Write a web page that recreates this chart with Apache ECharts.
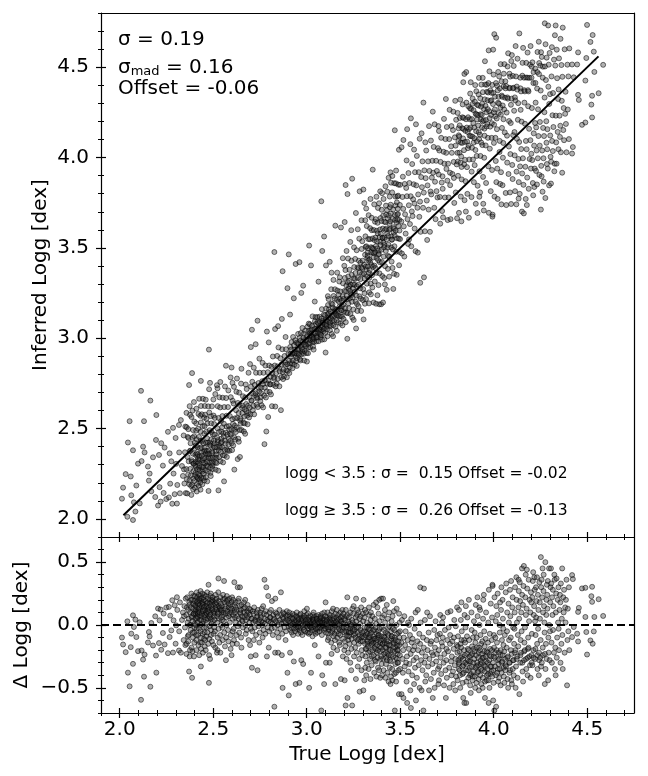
<!DOCTYPE html>
<html><head><meta charset="utf-8">
<script src="https://cdn.jsdelivr.net/npm/echarts@6/dist/echarts.min.js"></script>
<style>html,body{margin:0;padding:0;background:#fff}#c{width:648px;height:776px}</style>
</head><body><div id="c"></div>
<script>
// Axis ticks
const majorX = [2.0, 2.5, 3.0, 3.5, 4.0, 4.5];
const minorX = [1.9,2.0,2.1,2.2,2.3,2.4,2.5,2.6,2.7,2.8,2.9,3.0,3.1,3.2,3.3,3.4,3.5,3.6,3.7,3.8,3.9,4.0,4.1,4.2,4.3,4.4,4.5,4.6,4.7];
const majorYTop = [2.0, 2.5, 3.0, 3.5, 4.0, 4.5];
const minorYTop = [1.9,2.0,2.1,2.2,2.3,2.4,2.5,2.6,2.7,2.8,2.9,3.0,3.1,3.2,3.3,3.4,3.5,3.6,3.7,3.8,3.9,4.0,4.1,4.2,4.3,4.4,4.5,4.6,4.7,4.8];
const majorYBot = [-0.5, 0.0, 0.5];
const minorYBot = [-0.7,-0.6,-0.5,-0.4,-0.3,-0.2,-0.1,0.0,0.1,0.2,0.3,0.4,0.5,0.6,0.7];
const oneToOne = [[2.02, 2.02], [4.56, 4.56]];

// Residuals: [true logg, Δ logg = true - inferred]
const lowSparse = [[2.012,-0.1],[2.018,-0.155],[2.032,-0.216],[2.041,0.029],[2.044,-0.379],[2.053,-0.488],[2.059,-0.176],[2.062,-0.069],[2.071,0.077],[2.071,-0.309],[2.076,-0.016],[2.084,0.043],[2.089,-0.096],[2.098,-0.208],[2.107,0.021],[2.114,-0.595],[2.117,-0.203],[2.125,-0.275],[2.13,-0.411],[2.133,-0.235],[2.151,-0.139],[2.156,-0.056],[2.16,-0.091],[2.164,-0.491],[2.169,0.016],[2.178,-0.163],[2.19,0.069],[2.194,-0.243],[2.196,-0.379],[2.205,0.131],[2.21,-0.144],[2.213,0.037],[2.219,0.123],[2.222,-0.197],[2.231,-0.064],[2.235,0.091],[2.24,-0.155],[2.249,0.139],[2.258,-0.224],[2.263,0.144],[2.267,-0.096],[2.27,0.075],[2.276,-0.043],[2.281,0.197],[2.285,-0.219],[2.288,0.037],[2.294,0.157],[2.299,-0.149],[2.302,-0.003],[2.306,0.221],[2.317,-0.203]];

const redClump = [[2.308,0.12],[2.318,-0.05],[2.322,0.18],[2.327,-0.22],[2.333,0.04],[2.338,0.1],[2.342,-0.12],[2.346,0.15],[2.349,-0.02],[2.353,0.21],[2.351,-0.16],[2.344,0.07],
[2.356,0.08],[2.358,-0.15],[2.361,0.22],[2.363,0.02],[2.359,0.14],[2.364,-0.09],[2.357,-0.23],
[2.366,0.12],[2.368,-0.08],[2.372,0.18],[2.374,-0.25],[2.369,0.05],[2.371,-0.37],[2.373,0.16],[2.367,-0.13],[2.375,0.0],
[2.377,0.1],[2.379,-0.04],[2.383,0.25],[2.381,0.14],[2.384,-0.18],[2.378,0.0],[2.382,0.2],[2.385,0.06],[2.376,-0.2],
[2.386,0.07],[2.388,0.2],[2.392,-0.1],[2.394,0.13],[2.389,-0.21],[2.391,0.03],[2.393,0.17],[2.387,-0.42],[2.395,0.09],[2.39,-0.06],[2.393,0.23],
[2.396,0.09],[2.398,-0.06],[2.402,0.23],[2.404,0.11],[2.399,-0.14],[2.401,0.01],[2.403,0.16],[2.397,-0.25],[2.405,0.05],[2.4,0.19],[2.402,-0.02],
[2.406,0.15],[2.412,0.05],[2.409,-0.12],[2.414,0.22],[2.407,0.09],[2.411,-0.03],[2.413,0.18],[2.408,0.12],[2.41,-0.2],[2.415,0.07],[2.412,0.26],[2.407,0.0],[2.414,0.14],[2.409,-0.08],
[2.416,0.1],[2.422,0.2],[2.419,-0.08],[2.424,0.14],[2.417,0.02],[2.421,-0.16],[2.423,0.24],[2.418,0.06],[2.42,0.17],[2.425,-0.24],[2.422,0.11],[2.417,0.19],[2.424,-0.03],[2.419,0.09],
[2.426,0.13],[2.432,0.0],[2.429,0.19],[2.434,-0.1],[2.427,0.08],[2.431,0.23],[2.433,-0.05],[2.428,0.16],[2.43,0.04],[2.435,-0.19],[2.432,0.27],[2.427,0.1],[2.434,-0.33],[2.429,0.21],[2.431,-0.14],
[2.436,0.07],[2.442,0.18],[2.439,-0.14],[2.444,0.12],[2.437,0.21],[2.441,0.01],[2.443,-0.07],[2.438,0.15],[2.44,0.09],[2.445,-0.22],[2.442,0.25],[2.437,0.04],[2.444,0.17],
[2.446,0.11],[2.452,-0.02],[2.449,0.2],[2.454,0.06],[2.447,0.16],[2.451,-0.11],[2.453,0.24],[2.448,0.03],[2.45,0.14],[2.455,-0.17],[2.452,0.08],[2.447,0.22],[2.454,-0.06],
[2.456,0.12],[2.462,0.04],[2.459,0.19],[2.464,-0.09],[2.457,0.15],[2.461,0.23],[2.463,-0.02],[2.458,0.08],[2.46,-0.2],[2.465,0.17],[2.462,0.1],[2.457,-0.12],
[2.466,0.09],[2.472,0.21],[2.469,-0.06],[2.474,0.13],[2.467,0.02],[2.471,0.18],[2.473,-0.15],[2.468,0.26],[2.47,0.11],[2.475,0.32],[2.472,0.05],[2.467,0.15],
[2.476,0.14],[2.482,0.06],[2.479,-0.11],[2.484,0.2],[2.477,0.1],[2.481,-0.01],[2.483,0.17],[2.478,-0.24],[2.48,0.07],[2.485,0.23],[2.477,-0.46],[2.483,-0.27],[2.479,0.12],
[2.486,0.08],[2.492,0.18],[2.489,-0.04],[2.494,0.12],[2.487,0.25],[2.491,0.01],[2.493,-0.13],[2.488,0.15],[2.49,0.05],[2.495,0.2],[2.488,-0.08],
[2.496,0.13],[2.502,-0.07],[2.499,0.19],[2.504,0.07],[2.497,0.22],[2.501,-0.16],[2.503,0.1],[2.498,0.03],[2.5,0.16],[2.505,-0.02],
[2.506,0.11],[2.512,0.2],[2.509,-0.05],[2.514,0.14],[2.507,0.04],[2.511,-0.18],[2.513,0.24],[2.508,0.09],[2.51,0.17],
[2.516,0.16],[2.522,0.02],[2.519,0.21],[2.524,-0.1],[2.517,0.12],[2.521,0.07],[2.523,-0.2],[2.518,0.18],[2.52,-0.22],[2.525,0.1],
[2.526,0.09],[2.532,0.19],[2.529,-0.03],[2.534,0.13],[2.527,0.26],[2.531,0.05],[2.533,-0.14],[2.528,0.37],[2.53,0.15],
[2.536,0.14],[2.542,0.0],[2.539,0.22],[2.544,0.1],[2.537,-0.08],[2.541,0.17],[2.543,0.06],[2.538,-0.22],[2.54,0.12],
[2.546,0.12],[2.552,0.2],[2.549,-0.02],[2.554,0.08],[2.547,0.15],[2.551,-0.12],[2.553,0.24],[2.548,0.04],
[2.556,0.1],[2.562,0.18],[2.559,-0.06],[2.564,0.13],[2.557,0.03],[2.561,0.21],[2.563,-0.17],[2.558,0.35],
[2.566,0.15],[2.572,0.06],[2.569,-0.1],[2.574,0.19],[2.567,0.09],[2.571,0.0],[2.573,0.23],[2.568,-0.28],
[2.576,0.11],[2.582,0.17],[2.579,-0.04],[2.584,0.07],[2.577,0.2],[2.581,-0.13],[2.583,0.14],
[2.586,0.09],[2.592,0.16],[2.589,0.02],[2.594,-0.08],[2.587,0.21],[2.591,0.12],[2.593,-0.19],
[2.596,0.13],[2.602,0.05],[2.599,0.18],[2.604,-0.05],[2.597,0.1],[2.601,0.22],[2.603,-0.15],[2.598,-0.24]];

const giantBranch = [[2.606,0.08],[2.612,0.16],[2.609,-0.03],[2.614,0.12],[2.607,0.2],[2.611,-0.12],[2.613,0.34],
[2.616,0.1],[2.622,0.02],[2.619,0.18],[2.624,-0.08],[2.617,0.06],[2.621,0.14],
[2.626,0.12],[2.632,-0.01],[2.629,0.07],[2.634,0.19],[2.627,-0.15],[2.631,0.3],
[2.636,0.05],[2.642,0.15],[2.639,-0.06],[2.644,0.1],[2.637,0.21],[2.641,0.01],[2.643,0.3],
[2.646,0.09],[2.652,0.16],[2.649,-0.1],[2.654,0.04],[2.647,0.12],[2.651,-0.18],
[2.656,0.07],[2.662,0.13],[2.659,-0.02],[2.664,0.18],[2.657,0.03],
[2.666,0.1],[2.672,0.0],[2.669,0.14],[2.674,-0.07],[2.667,0.06],[2.671,0.2],
[2.676,0.04],[2.682,0.11],[2.679,-0.04],[2.684,0.16],[2.677,0.08],
[2.686,0.06],[2.692,0.13],[2.689,-0.12],[2.694,0.02],[2.687,0.1],
[2.696,0.08],[2.702,-0.03],[2.699,0.12],[2.704,0.05],[2.697,-0.16],[2.701,-0.25],
[2.706,0.05],[2.712,0.11],[2.709,-0.05],[2.714,0.02],[2.707,-0.34],
[2.716,0.09],[2.722,-0.02],[2.719,0.14],[2.724,0.04],[2.717,-0.12],
[2.726,0.03],[2.732,0.1],[2.729,-0.08],[2.734,0.06],[2.727,-0.24],
[2.736,0.07],[2.742,-0.01],[2.739,0.12],[2.744,0.02],[2.737,-0.36],
[2.746,0.04],[2.752,0.1],[2.749,-0.06],[2.754,0.08],[2.747,-0.14],
[2.756,0.06],[2.762,0.0],[2.759,0.13],[2.764,-0.1],[2.757,0.03],
[2.766,0.02],[2.772,0.09],[2.769,-0.04],[2.774,0.36],[2.767,0.15],
[2.776,0.05],[2.782,0.11],[2.779,-0.07],[2.784,0.3],[2.777,0.01],
[2.786,0.08],[2.792,-0.02],[2.789,0.04],[2.794,0.23],[2.787,-0.25],
[2.796,0.03],[2.802,0.1],[2.799,-0.05],[2.804,0.06],[2.797,-0.18],
[2.806,0.06],[2.812,-0.03],[2.809,0.12],[2.814,0.19],[2.807,0.02],
[2.816,0.01],[2.822,0.08],[2.819,-0.08],[2.824,0.04],
[2.826,0.05],[2.832,0.21],[2.829,-0.02],[2.834,0.1],[2.827,-0.65],[2.831,-0.22],
[2.836,0.03],[2.842,-0.06],[2.839,0.09],[2.844,0.0],
[2.846,0.07],[2.852,0.02],[2.849,-0.1],[2.854,0.12],[2.847,-0.22],
[2.856,0.04],[2.862,0.26],[2.859,-0.03],[2.864,0.08],
[2.866,0.01],[2.872,0.06],[2.869,-0.07],[2.874,0.1],[2.867,-0.24],[2.871,-0.5],
[2.876,0.05],[2.882,-0.02],[2.879,0.09],[2.884,0.03],
[2.886,0.02],[2.892,0.07],[2.889,-0.05],[2.894,0.11],[2.887,-0.12],
[2.896,0.04],[2.902,-0.01],[2.899,0.08],[2.904,-0.56],[2.897,-0.38],
[2.906,0.03],[2.912,-0.04],[2.909,0.07],[2.914,0.0],[2.907,0.1],[2.911,-0.22],[2.912,0.05],
[2.916,0.02],[2.922,0.06],[2.919,-0.06],[2.924,0.09],[2.917,-0.02],[2.923,0.01],
[2.926,0.05],[2.932,-0.03],[2.929,0.01],[2.934,0.08],[2.927,-0.08],[2.931,-0.29],
[2.936,0.0],[2.942,0.04],[2.939,-0.05],[2.944,0.07],[2.937,0.02],[2.941,-0.47],[2.945,-0.03],
[2.946,0.03],[2.952,-0.02],[2.949,0.06],[2.954,-0.07],[2.947,0.1],[2.951,0.01],
[2.956,0.04],[2.962,-0.04],[2.959,0.02],[2.964,0.08],[2.957,-0.01],[2.961,-0.46],[2.958,0.05],
[2.966,0.01],[2.972,0.06],[2.969,-0.06],[2.974,0.03],[2.967,0.09],[2.971,-0.28],[2.967,-0.02],
[2.976,0.05],[2.982,-0.02],[2.979,0.0],[2.984,0.07],[2.977,-0.08],[2.981,-0.31],[2.978,0.04],
[2.986,0.02],[2.992,-0.05],[2.989,0.06],[2.994,0.03],[2.987,0.11],[2.993,0.0],[2.985,-0.04],
[2.996,0.04],[3.002,-0.01],[2.999,0.08],[3.004,-0.06],[2.997,0.01],[3.001,0.13]];

const midBand = [[3.006,0.02],[3.012,-0.03],[3.009,0.06],[3.014,0.0],[3.007,0.09],[3.011,-0.07],[3.013,-0.5],[3.008,0.04],
[3.016,0.04],[3.022,-0.02],[3.019,0.07],[3.024,0.01],[3.017,-0.06],[3.021,0.03],[3.023,-0.38],[3.018,-0.01],
[3.026,0.0],[3.032,0.05],[3.029,-0.04],[3.034,0.08],[3.027,0.02],[3.031,-0.09],[3.033,0.04],[3.028,-0.02],
[3.036,0.03],[3.042,-0.01],[3.039,0.06],[3.044,-0.05],[3.037,0.1],[3.041,0.01],[3.043,-0.16],[3.038,0.04],
[3.046,0.02],[3.052,0.07],[3.049,-0.03],[3.054,0.04],[3.047,-0.07],[3.051,0.0],[3.053,0.05],
[3.056,0.05],[3.062,-0.02],[3.059,0.01],[3.064,0.08],[3.057,-0.06],[3.061,0.03],[3.063,-0.25],[3.058,-0.03],
[3.066,0.01],[3.072,0.04],[3.069,-0.05],[3.074,0.07],[3.067,0.02],[3.071,-0.02],[3.073,0.05],
[3.076,0.03],[3.082,0.09],[3.079,-0.03],[3.084,0.0],[3.077,0.06],[3.081,-0.08],[3.083,-0.4],[3.078,-0.68],[3.08,0.02],
[3.086,0.02],[3.092,-0.04],[3.089,0.05],[3.094,0.1],[3.087,-0.01],[3.091,0.04],[3.093,-0.47],[3.088,0.0],
[3.096,0.04],[3.102,0.0],[3.099,0.07],[3.104,-0.06],[3.097,0.02],[3.101,0.18],[3.103,-0.3],[3.098,-0.03],
[3.106,0.03],[3.112,-0.02],[3.109,0.06],[3.114,-0.07],[3.107,0.01],[3.111,0.1],[3.113,-0.12],[3.108,0.04],
[3.116,0.0],[3.122,0.05],[3.119,-0.04],[3.124,0.08],[3.117,-0.1],[3.121,0.02],[3.123,-0.3],[3.118,-0.02],
[3.126,0.04],[3.132,-0.06],[3.129,0.02],[3.134,0.11],[3.127,-0.02],[3.131,-0.14],[3.133,-0.23],[3.128,0.06],
[3.136,0.01],[3.142,0.07],[3.139,-0.03],[3.144,-0.09],[3.137,0.04],[3.141,0.13],[3.143,-0.18],[3.138,-0.05],
[3.146,0.05],[3.152,-0.01],[3.149,-0.07],[3.154,0.09],[3.147,0.02],[3.151,-0.12],[3.153,-0.47],[3.148,0.0],
[3.156,0.02],[3.162,-0.05],[3.159,0.06],[3.164,-0.1],[3.157,0.0],[3.161,0.12],[3.163,-0.2],[3.158,0.03],
[3.166,0.04],[3.172,-0.03],[3.169,0.08],[3.174,-0.14],[3.167,0.01],[3.171,-0.07],[3.173,0.05],
[3.176,0.0],[3.182,0.06],[3.179,-0.08],[3.184,0.03],[3.177,-0.16],[3.181,0.1],[3.183,-0.43],[3.178,-0.04],
[3.186,0.03],[3.192,-0.04],[3.189,0.07],[3.194,-0.11],[3.187,-0.02],[3.191,0.12],[3.193,-0.25],[3.188,0.01],
[3.196,0.01],[3.202,-0.06],[3.199,0.05],[3.204,-0.13],[3.197,0.09],[3.201,-0.2],[3.203,-0.44],[3.198,-0.02],
[3.206,0.04],[3.212,-0.08],[3.209,0.12],[3.214,-0.02],[3.207,-0.17],[3.211,0.07],[3.213,-0.27],[3.208,-0.64],[3.21,-0.05],
[3.216,0.0],[3.222,-0.12],[3.219,0.08],[3.224,-0.05],[3.217,0.22],[3.221,-0.22],[3.223,0.03],[3.218,-0.58],[3.22,-0.09],
[3.226,0.06],[3.232,-0.03],[3.229,-0.15],[3.234,0.1],[3.227,-0.09],[3.231,0.01],[3.233,-0.3],[3.228,-0.06],
[3.236,-0.06],[3.242,0.04],[3.239,-0.19],[3.244,0.13],[3.237,-0.01],[3.241,-0.11],[3.243,-0.64],[3.238,-0.36],[3.24,0.0],
[3.246,0.02],[3.252,-0.08],[3.249,0.09],[3.254,-0.14],[3.247,-0.03],[3.251,0.15],[3.253,-0.25],[3.248,-0.05],
[3.256,-0.04],[3.262,0.06],[3.259,-0.18],[3.264,0.21],[3.257,0.0],[3.261,-0.1],[3.263,-0.43],[3.258,-0.07],
[3.266,0.03],[3.272,-0.12],[3.269,0.08],[3.274,-0.06],[3.267,-0.22],[3.271,0.12],[3.273,-0.33],[3.268,-0.02],
[3.276,-0.02],[3.282,0.05],[3.279,-0.15],[3.284,-0.08],[3.277,0.1],[3.281,-0.27],[3.283,-0.53],[3.278,-0.11],
[3.286,0.01],[3.292,-0.1],[3.289,0.07],[3.294,-0.2],[3.287,-0.04],[3.291,0.14],[3.293,-0.36],[3.288,-0.13],
[3.296,-0.06],[3.302,0.03],[3.299,-0.13],[3.304,0.2],[3.297,-0.24],[3.301,0.09],[3.303,-0.52],[3.298,-0.09]];

const subgiants = [[3.306,-0.05],[3.312,-0.15],[3.309,0.06],[3.314,-0.25],[3.307,-0.1],[3.311,0.12],[3.313,-0.34],[3.308,-0.44],[3.31,-0.02],[3.315,-0.19],
[3.316,-0.08],[3.322,0.02],[3.319,-0.19],[3.324,-0.12],[3.317,0.1],[3.321,-0.3],[3.323,-0.02],[3.318,-0.4],[3.32,-0.06],[3.325,-0.15],
[3.326,-0.13],[3.332,-0.03],[3.329,-0.22],[3.334,0.08],[3.327,-0.07],[3.331,-0.35],[3.333,0.14],[3.328,-0.17],[3.33,-0.1],[3.335,0.0],
[3.336,-0.1],[3.342,0.04],[3.339,-0.27],[3.344,-0.16],[3.337,-0.04],[3.341,-0.43],[3.343,0.1],[3.338,-0.21],[3.34,-0.08],[3.345,-0.13],
[3.346,-0.06],[3.352,-0.2],[3.349,0.0],[3.354,-0.12],[3.347,-0.32],[3.351,0.07],[3.353,-0.58],[3.348,-0.25],[3.35,-0.15],[3.355,-0.04],
[3.356,-0.14],[3.362,-0.04],[3.359,-0.24],[3.364,0.05],[3.357,-0.09],[3.361,-0.38],[3.363,-0.18],[3.358,0.16],[3.36,-0.11],[3.365,-0.28],
[3.366,-0.11],[3.372,0.01],[3.369,-0.29],[3.374,-0.07],[3.367,-0.19],[3.371,0.18],[3.373,-0.41],[3.368,-0.02],[3.37,-0.14],[3.375,-0.22],
[3.376,-0.16],[3.382,-0.05],[3.379,-0.26],[3.384,0.09],[3.377,-0.12],[3.381,-0.34],[3.383,-0.08],[3.378,0.14],[3.38,-0.2],[3.385,-0.1],
[3.386,-0.08],[3.392,-0.21],[3.389,0.03],[3.394,-0.14],[3.387,-0.36],[3.391,-0.03],[3.393,-0.42],[3.388,0.2],[3.39,-0.17],[3.395,-0.27],
[3.396,-0.12],[3.402,-0.02],[3.399,-0.25],[3.404,0.06],[3.397,-0.18],[3.401,-0.31],[3.403,-0.4],[3.398,0.21],[3.4,-0.09],[3.405,-0.15],
[3.406,-0.15],[3.412,-0.04],[3.409,-0.27],[3.414,0.08],[3.407,-0.2],[3.411,-0.36],[3.413,-0.09],[3.408,0.21],[3.41,-0.12],[3.415,-0.23],
[3.416,-0.1],[3.422,-0.22],[3.419,0.02],[3.424,-0.31],[3.417,-0.14],[3.421,-0.42],[3.423,-0.06],[3.418,0.12],[3.42,-0.18],[3.425,-0.26],
[3.426,-0.18],[3.432,-0.07],[3.429,-0.28],[3.434,0.05],[3.427,-0.12],[3.431,-0.38],[3.433,-0.23],[3.428,0.16],[3.43,-0.15],[3.435,-0.02],
[3.436,-0.13],[3.442,-0.01],[3.439,-0.24],[3.444,-0.34],[3.437,-0.08],[3.441,0.1],[3.443,-0.19],[3.438,-0.45],[3.44,-0.16],[3.445,-0.28],
[3.446,-0.16],[3.452,-0.05],[3.449,-0.29],[3.454,0.03],[3.447,-0.2],[3.451,-0.41],[3.453,-0.11],[3.448,-0.47],[3.45,-0.24],[3.455,-0.09],
[3.456,-0.09],[3.462,-0.25],[3.459,0.07],[3.464,-0.15],[3.457,-0.35],[3.461,-0.03],[3.463,0.19],[3.458,-0.44],[3.46,-0.2],[3.465,-0.12],
[3.466,-0.14],[3.472,-0.21],[3.469,-0.04],[3.474,-0.31],[3.467,0.11],[3.471,-0.68],[3.473,-0.18],[3.468,-0.39],[3.47,-0.1],[3.475,-0.26],
[3.476,-0.12],[3.482,-0.27],[3.479,0.0],[3.484,-0.2],[3.477,-0.38],[3.481,0.13],[3.483,-0.07],[3.478,-0.45],[3.48,-0.16],[3.485,-0.3],
[3.486,-0.17],[3.492,-0.06],[3.489,-0.3],[3.494,0.09],[3.487,-0.23],[3.491,-0.13],[3.493,-0.55],[3.488,-0.2],[3.49,-0.36],
[3.496,-0.1],[3.498,-0.24],[3.497,0.02],[3.499,-0.35],[3.495,-0.16],[3.499,-0.05]];

const dwarfsLow = [[3.506,-0.14],[3.512,-0.27],[3.509,0.04],[3.514,-0.38],[3.507,-0.55],
[3.516,-0.2],[3.522,0.07],[3.519,-0.1],[3.524,-0.33],[3.517,-0.58],
[3.526,-0.16],[3.532,-0.3],[3.529,-0.05],[3.534,-0.45],
[3.536,-0.25],[3.542,0.02],[3.539,-0.12],[3.544,-0.37],[3.537,-0.62],
[3.546,-0.19],[3.552,-0.08],[3.549,-0.31],[3.554,-0.52],[3.547,0.0],
[3.556,-0.23],[3.562,-0.14],[3.559,0.05],[3.564,-0.4],[3.557,-0.66],
[3.566,-0.11],[3.572,-0.28],[3.569,-0.2],[3.574,-0.47],
[3.576,-0.17],[3.582,0.1],[3.579,-0.34],[3.584,-0.6],[3.577,-0.03],
[3.586,-0.26],[3.592,-0.13],[3.589,-0.42],[3.594,0.12],
[3.596,-0.2],[3.602,-0.07],[3.599,-0.32],[3.604,-0.5],
[3.606,-0.15],[3.612,-0.28],[3.609,0.02],[3.614,-0.52],[3.607,0.3],
[3.616,-0.22],[3.622,-0.1],[3.619,-0.36],[3.624,-0.68],
[3.626,-0.18],[3.632,0.04],[3.629,-0.3],[3.634,-0.45],[3.627,0.29],
[3.636,-0.25],[3.642,-0.12],[3.639,-0.4],[3.644,0.1],
[3.646,-0.2],[3.652,-0.06],[3.649,-0.33],[3.654,-0.52],
[3.656,-0.27],[3.662,-0.15],[3.659,0.07],[3.664,-0.43],
[3.666,-0.13],[3.672,-0.31],[3.669,-0.22],[3.674,-0.58],
[3.676,-0.24],[3.682,-0.04],[3.679,-0.38],[3.684,-0.5],
[3.686,-0.18],[3.692,-0.29],[3.689,0.03],[3.694,-0.12],
[3.696,-0.23],[3.702,-0.35],[3.699,-0.08],[3.704,-0.47],
[3.706,-0.2],[3.712,-0.07],[3.709,-0.33],[3.714,0.08],[3.707,-0.44],
[3.716,-0.26],[3.722,-0.14],[3.719,-0.39],[3.724,0.02],
[3.726,-0.17],[3.732,-0.3],[3.729,0.06],[3.734,-0.48],[3.727,-0.1],
[3.736,-0.23],[3.742,-0.36],[3.739,-0.04],[3.744,-0.58],
[3.746,-0.28],[3.752,-0.12],[3.749,-0.42],[3.754,0.1],[3.747,-0.19],
[3.756,-0.21],[3.762,-0.34],[3.759,-0.02],[3.764,-0.5],
[3.766,-0.15],[3.772,-0.29],[3.769,0.11],[3.774,-0.4],[3.767,-0.08],
[3.776,-0.25],[3.782,-0.37],[3.779,-0.13],[3.784,-0.47],
[3.786,-0.19],[3.792,-0.32],[3.789,0.04],[3.794,-0.52],[3.787,-0.1],
[3.796,-0.27],[3.802,-0.16],[3.799,-0.41],[3.804,0.14],[3.797,-0.01]];

const dwarfs = [[3.806,-0.22],[3.812,-0.35],[3.809,-0.09],[3.814,0.12],[3.807,-0.44],[3.811,-0.28],[3.813,-0.31],[3.808,-0.17],
[3.816,-0.3],[3.822,-0.15],[3.819,-0.4],[3.824,0.04],[3.817,-0.21],[3.821,-0.5],[3.823,-0.26],[3.818,-0.36],
[3.826,-0.18],[3.832,-0.33],[3.829,-0.05],[3.834,-0.46],[3.827,0.18],[3.831,-0.25],[3.833,-0.39],[3.828,-0.12],
[3.836,-0.27],[3.842,-0.12],[3.839,-0.38],[3.844,0.08],[3.837,-0.58],[3.841,-0.2],[3.843,-0.62],[3.838,-0.32],
[3.846,-0.24],[3.852,-0.36],[3.849,-0.02],[3.854,-0.45],[3.847,-0.14],[3.851,0.15],[3.853,-0.62],[3.848,-0.3],
[3.856,-0.31],[3.862,-0.19],[3.859,0.06],[3.864,-0.42],[3.857,-0.09],[3.861,-0.28],[3.863,-0.36],[3.858,-0.23],
[3.866,-0.2],[3.872,-0.34],[3.869,-0.12],[3.874,-0.48],[3.867,0.2],[3.871,-0.25],[3.873,-0.4],[3.868,-0.29],
[3.876,-0.29],[3.882,-0.04],[3.879,-0.39],[3.884,-0.17],[3.877,-0.54],[3.881,0.1],[3.883,-0.33],[3.878,-0.24],
[3.886,-0.23],[3.892,-0.37],[3.889,-0.1],[3.894,0.03],[3.887,-0.44],[3.891,-0.3],[3.893,-0.19],[3.888,-0.41],
[3.896,-0.27],[3.902,-0.14],[3.899,-0.41],[3.904,0.16],[3.897,-0.21],[3.901,-0.5],[3.903,-0.34],[3.898,-0.06],
[3.906,-0.24],[3.912,-0.38],[3.909,-0.1],[3.914,0.07],[3.907,-0.46],[3.911,-0.3],[3.913,0.22],[3.908,-0.33],[3.91,-0.18],
[3.916,-0.32],[3.922,-0.18],[3.919,-0.43],[3.924,0.0],[3.917,-0.26],[3.921,-0.52],[3.923,0.14],[3.918,-0.37],[3.92,-0.22],
[3.926,-0.2],[3.932,-0.35],[3.929,-0.08],[3.934,-0.47],[3.927,0.12],[3.931,-0.28],[3.933,-0.15],[3.928,-0.4],[3.93,-0.31],
[3.936,-0.3],[3.942,-0.42],[3.939,-0.13],[3.944,0.2],[3.937,-0.23],[3.941,-0.5],[3.943,0.05],[3.938,-0.36],[3.94,-0.26],
[3.946,-0.26],[3.952,-0.37],[3.949,-0.05],[3.954,-0.45],[3.947,0.24],[3.951,-0.17],[3.953,-0.58],[3.948,-0.32],[3.95,-0.21],
[3.956,-0.33],[3.962,-0.21],[3.959,0.1],[3.964,-0.4],[3.957,-0.11],[3.961,-0.29],[3.963,-0.44],[3.958,-0.25],
[3.966,-0.22],[3.972,-0.44],[3.969,-0.14],[3.974,0.28],[3.967,-0.35],[3.971,0.02],[3.973,-0.62],[3.968,-0.3],[3.97,-0.39],
[3.976,-0.28],[3.982,-0.39],[3.979,-0.07],[3.984,0.17],[3.977,-0.5],[3.981,-0.19],[3.983,-0.33],[3.978,-0.24],
[3.986,-0.25],[3.992,-0.41],[3.989,-0.12],[3.994,0.31],[3.987,-0.33],[3.991,0.06],[3.993,0.32],[3.988,-0.37],[3.99,-0.2],
[3.996,-0.3],[4.002,-0.18],[3.999,-0.46],[4.004,0.22],[3.997,-0.6],[4.001,-0.08],[4.003,-0.68],[3.998,-0.36],[4.0,-0.25],
[4.006,-0.26],[4.012,-0.4],[4.009,-0.1],[4.014,0.15],[4.007,-0.33],[4.011,0.03],[4.013,-0.65],[4.008,-0.22],
[4.016,-0.2],[4.022,-0.35],[4.019,0.08],[4.024,-0.45],[4.017,-0.14],[4.021,0.25],[4.023,-0.28],[4.018,-0.38],
[4.026,-0.31],[4.032,-0.06],[4.029,-0.42],[4.034,0.18],[4.027,-0.22],[4.031,0.0],[4.033,-0.35],[4.028,-0.27],
[4.036,-0.24],[4.042,-0.38],[4.039,0.12],[4.044,-0.12],[4.037,-0.48],[4.041,0.3],[4.043,-0.3],[4.038,-0.2],
[4.046,-0.29],[4.052,-0.16],[4.049,0.05],[4.054,-0.41],[4.047,0.2],[4.051,-0.03],[4.053,-0.34],[4.048,-0.24],
[4.056,-0.21],[4.062,-0.36],[4.059,-0.08],[4.064,0.26],[4.057,-0.46],[4.061,-0.27],[4.063,-0.32],
[4.066,-0.33],[4.072,0.1],[4.069,-0.18],[4.074,-0.43],[4.067,0.33],[4.071,-0.05],[4.073,-0.26],
[4.076,-0.25],[4.082,-0.12],[4.079,0.17],[4.084,-0.38],[4.077,-0.5],[4.081,0.02],[4.083,-0.3],
[4.086,-0.3],[4.092,-0.2],[4.089,0.07],[4.094,-0.44],[4.087,0.28],[4.091,-0.1],[4.093,0.35],[4.088,-0.36],
[4.096,-0.23],[4.102,-0.35],[4.099,0.14],[4.104,-0.02],[4.097,-0.47],[4.101,0.22],[4.103,-0.28]];

const dwarfsHigh = [[4.106,-0.28],[4.112,0.1],[4.109,-0.15],[4.114,0.3],[4.107,-0.4],[4.111,-0.03],[4.113,-0.22],
[4.116,-0.2],[4.122,0.2],[4.119,-0.33],[4.124,0.02],[4.117,-0.5],[4.121,0.38],[4.123,-0.27],
[4.126,-0.25],[4.132,0.14],[4.129,-0.08],[4.134,0.27],[4.127,-0.42],[4.131,-0.17],[4.133,0.36],
[4.136,0.05],[4.142,-0.3],[4.139,0.34],[4.144,-0.12],[4.137,-0.55],[4.141,0.19],[4.143,-0.24],
[4.146,-0.22],[4.152,0.24],[4.149,-0.05],[4.154,-0.37],[4.147,0.1],[4.151,0.45],[4.153,-0.3],
[4.156,0.16],[4.162,-0.28],[4.159,0.31],[4.164,-0.14],[4.157,-0.45],[4.161,0.47],[4.163,-0.21],
[4.166,-0.2],[4.172,0.08],[4.169,0.22],[4.174,-0.35],[4.167,-0.02],[4.171,0.4],[4.173,-0.27],
[4.176,0.13],[4.182,-0.26],[4.179,0.29],[4.184,-0.1],[4.177,0.44],[4.181,-0.4],[4.183,-0.19],
[4.186,-0.18],[4.192,0.2],[4.189,0.03],[4.194,-0.32],[4.187,0.36],[4.191,-0.25],
[4.196,0.1],[4.202,-0.24],[4.199,0.26],[4.204,-0.07],[4.197,-0.42],[4.201,0.18],[4.203,-0.3],
[4.206,0.22],[4.212,-0.2],[4.209,0.35],[4.214,0.08],[4.207,-0.32],[4.211,0.42],[4.213,-0.26],
[4.216,0.15],[4.222,-0.27],[4.219,0.28],[4.224,-0.08],[4.217,0.38],[4.221,0.03],[4.223,-0.19],
[4.226,0.3],[4.232,-0.15],[4.229,0.19],[4.234,-0.35],[4.227,0.06],[4.231,0.38],[4.233,-0.24],
[4.236,0.24],[4.242,-0.22],[4.239,0.12],[4.244,0.34],[4.237,-0.03],[4.241,-0.4],[4.243,-0.28],
[4.246,0.18],[4.252,0.54],[4.249,-0.26],[4.254,0.3],[4.247,0.05],[4.251,-0.12],[4.253,-0.33],
[4.256,0.36],[4.262,-0.18],[4.259,0.22],[4.264,0.1],[4.257,-0.3],[4.261,0.45],[4.263,-0.24],
[4.266,0.27],[4.272,-0.06],[4.269,0.15],[4.274,-0.23],[4.267,0.4],[4.271,0.02],[4.273,-0.47],
[4.276,0.5],[4.282,0.2],[4.279,-0.15],[4.284,0.32],[4.277,-0.35],[4.281,0.08],[4.283,-0.27],
[4.286,0.24],[4.292,-0.1],[4.289,0.35],[4.294,-0.22],[4.287,0.13],[4.291,-0.44],
[4.296,0.45],[4.302,0.18],[4.299,-0.28],[4.304,0.3],[4.297,0.0],[4.301,-0.05],
[4.306,0.45],[4.312,0.22],[4.309,-0.14],[4.314,0.08],[4.307,0.33],[4.311,-0.3],
[4.316,0.28],[4.322,-0.22],[4.319,0.15],[4.324,0.4],[4.317,-0.04],
[4.326,0.36],[4.332,0.1],[4.329,-0.18],[4.334,0.25],[4.327,-0.35],[4.331,-0.4],
[4.336,0.37],[4.342,0.2],[4.339,-0.1],[4.344,0.02],[4.337,-0.26],
[4.346,0.3],[4.352,0.12],[4.349,-0.2],[4.354,0.24],[4.347,-0.03],
[4.356,0.18],[4.362,-0.15],[4.359,0.33],[4.364,0.05],[4.357,-0.3],
[4.366,0.45],[4.372,0.22],[4.369,-0.35],[4.374,0.1],[4.367,-0.08],
[4.376,0.28],[4.382,0.14],[4.379,-0.22],[4.384,0.02],
[4.386,0.2],[4.392,-0.48],[4.389,0.36],[4.394,-0.12],
[4.396,0.13],[4.402,0.3],[4.399,-0.05],[4.404,-0.2]];

const highSparse = [[4.419,0.397],[4.423,0.365],[4.455,0.136],[4.451,0.104],[4.451,-0.131],[4.446,-0.069],[4.428,-0.016],[4.419,-0.096],[4.472,0.291],[4.49,0.296],[4.49,0.064],[4.495,-0.056],[4.499,-0.235],[4.522,0.229],[4.517,-0.123],[4.526,0.304],[4.526,0.184],[4.529,-0.149],[4.535,-0.051],[4.538,0.064],[4.561,0.205],[4.585,0.072]];

const residuals = [].concat(lowSparse, redClump, giantBranch, midBand, subgiants, dwarfsLow, dwarfs, dwarfsHigh, highSparse);
// inferred = true - Δ
const topData = residuals.map(p => [p[0], +(p[0] - p[1]).toFixed(3)]);

const FONT = 'DejaVu Sans';
const X0 = 1.9, X1 = 4.75;
const fmtTop = v => v.toFixed(1);
const fmtBot = v => (v < -1e-9 ? '\u2212' : '') + Math.abs(v).toFixed(1);

function xAxes(gi, showLabels) {
  const base = {gridIndex: gi, type: 'value', min: X0, max: X1, splitLine: {show: false}};
  return [
    Object.assign({}, base, {position: 'bottom',
      axisLine: {onZero: false, lineStyle: {color: '#000', width: 1.2}},
      axisTick: {show: false},
      axisLabel: {show: showLabels, customValues: majorX, formatter: fmtTop, fontSize: 20, color: '#000', fontFamily: FONT, margin: 7}}),
    Object.assign({}, base, {position: 'bottom', offset: -5,
      axisLine: {show: false, onZero: false}, axisLabel: {show: false},
      axisTick: {show: true, customValues: majorX, length: 10, lineStyle: {color: '#000', width: 1.2}}}),
    Object.assign({}, base, {position: 'bottom', offset: -3,
      axisLine: {show: false, onZero: false}, axisLabel: {show: false},
      axisTick: {show: true, customValues: minorX, length: 6, lineStyle: {color: '#000', width: 1}}}),
    Object.assign({}, base, {position: 'top',
      axisLine: {show: true, onZero: false, lineStyle: {color: '#000', width: 1.2}},
      axisTick: {show: false}, axisLabel: {show: false}})
  ];
}
function yAxes(gi, mn, mx, majors, minors, fmt) {
  const base = {gridIndex: gi, type: 'value', min: mn, max: mx, splitLine: {show: false}};
  return [
    Object.assign({}, base, {position: 'left',
      axisLine: {onZero: false, lineStyle: {color: '#000', width: 1.2}},
      axisTick: {show: false},
      axisLabel: {show: true, customValues: majors, formatter: fmt, fontSize: 20, color: '#000', fontFamily: FONT, margin: 12}}),
    Object.assign({}, base, {position: 'left', offset: -5,
      axisLine: {show: false, onZero: false}, axisLabel: {show: false},
      axisTick: {show: true, customValues: majors, length: 10, lineStyle: {color: '#000', width: 1.2}}}),
    Object.assign({}, base, {position: 'left', offset: -3,
      axisLine: {show: false, onZero: false}, axisLabel: {show: false},
      axisTick: {show: true, customValues: minors, length: 6, lineStyle: {color: '#000', width: 1}}}),
    Object.assign({}, base, {position: 'right',
      axisLine: {show: true, onZero: false, lineStyle: {color: '#000', width: 1.2}},
      axisTick: {show: false}, axisLabel: {show: false}})
  ];
}

const pointStyle = {color: 'rgba(60,60,60,0.5)', borderColor: 'rgba(0,0,0,0.65)', borderWidth: 1};

const chart = echarts.init(document.getElementById('c'), null, {renderer: 'canvas'});
chart.setOption({
  animation: false,
  backgroundColor: '#fff',
  grid: [
    {left: 101, top: 13, width: 533, height: 524},
    {left: 101, top: 537, width: 533, height: 176}
  ],
  xAxis: [].concat(xAxes(0, false), xAxes(1, true)),
  yAxis: [].concat(yAxes(0, 1.9, 4.8, majorYTop, minorYTop, fmtTop), yAxes(1, -0.7, 0.7, majorYBot, minorYBot, fmtBot)),
  series: [
    {type: 'scatter', xAxisIndex: 0, yAxisIndex: 0, data: topData, symbol: 'circle', symbolSize: 5, itemStyle: pointStyle, silent: true, z: 2},
    {type: 'line', xAxisIndex: 0, yAxisIndex: 0, data: oneToOne, symbol: 'none', lineStyle: {color: '#000', width: 2}, silent: true, z: 5},
    {type: 'scatter', xAxisIndex: 4, yAxisIndex: 4, data: residuals, symbol: 'circle', symbolSize: 5, itemStyle: pointStyle, silent: true, z: 2},
    {type: 'line', xAxisIndex: 4, yAxisIndex: 4, data: [[X0, 0], [X1, 0]], symbol: 'none', lineStyle: {color: '#000', width: 2, type: [8, 4]}, silent: true, z: 5}
  ],
  graphic: [
    {type: 'text', x: 118, y: 40, style: {text: '\u03c3 = 0.19', font: '20px "DejaVu Sans"', fill: '#000', textAlign: 'left', textVerticalAlign: 'middle'}},
    {type: 'text', x: 118, y: 53, style: {text: '{a|\u03c3}{s|mad}{a| = 0.16}', fill: '#000', textAlign: 'left', textVerticalAlign: 'top',
      rich: {a: {fontSize: 20, fontFamily: FONT, lineHeight: 25, verticalAlign: 'bottom', fill: '#000'},
             s: {fontSize: 13, fontFamily: FONT, lineHeight: 14, verticalAlign: 'bottom', fill: '#000'}}}},
    {type: 'text', x: 118, y: 89, style: {text: 'Offset = -0.06', font: '20px "DejaVu Sans"', fill: '#000', textAlign: 'left', textVerticalAlign: 'middle'}},
    {type: 'text', x: 285, y: 474, style: {text: 'logg < 3.5 : \u03c3 =  0.15 Offset = -0.02', font: '15.5px "DejaVu Sans"', fill: '#000', textAlign: 'left', textVerticalAlign: 'middle'}},
    {type: 'text', x: 285, y: 511, style: {text: 'logg \u2265 3.5 : \u03c3 =  0.26 Offset = -0.13', font: '15.5px "DejaVu Sans"', fill: '#000', textAlign: 'left', textVerticalAlign: 'middle'}},
    {type: 'text', x: 41, y: 275, rotation: Math.PI / 2, style: {text: 'Inferred Logg [dex]', font: '20px "DejaVu Sans"', fill: '#000', textAlign: 'center', textVerticalAlign: 'middle'}},
    {type: 'text', x: 22, y: 625, rotation: Math.PI / 2, style: {text: '\u0394 Logg [dex]', font: '20px "DejaVu Sans"', fill: '#000', textAlign: 'center', textVerticalAlign: 'middle'}},
    {type: 'text', x: 367, y: 755, style: {text: 'True Logg [dex]', font: '20px "DejaVu Sans"', fill: '#000', textAlign: 'center', textVerticalAlign: 'middle'}}
  ]
});
</script>
</body></html>
